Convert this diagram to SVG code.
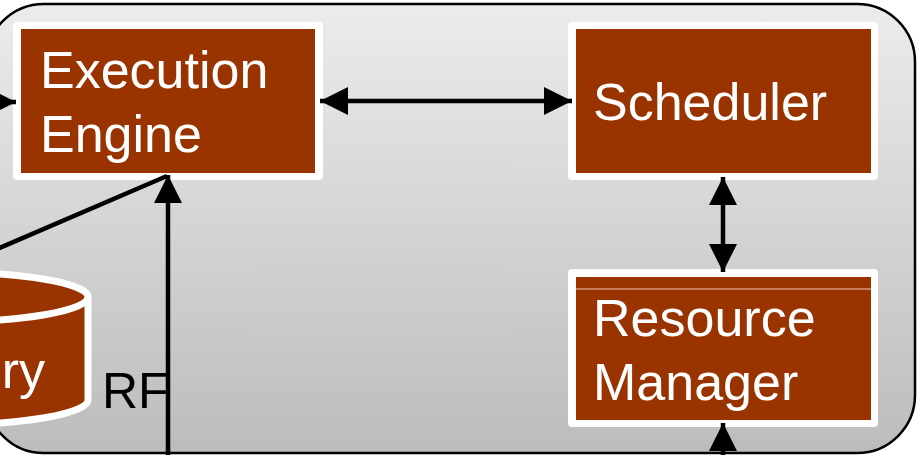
<svg xmlns="http://www.w3.org/2000/svg" width="917" height="455" viewBox="0 0 917 455">
<style>
.lbl{font-family:"Liberation Sans",Arial,sans-serif;font-size:52px;fill:#ffffff}
.dark{font-family:"Liberation Sans",Arial,sans-serif;font-size:50px;fill:#000000}
.outer{fill:#ffffff}
.inner{fill:#993300}
.conn{stroke:#000;stroke-width:4.5;fill:none}
</style>
<defs>
<linearGradient id="bg" x1="0" y1="0" x2="0" y2="1">
<stop offset="0" stop-color="#ececec"/>
<stop offset="1" stop-color="#bcbcbc"/>
</linearGradient>
<marker id="ah" markerUnits="userSpaceOnUse" markerWidth="28" markerHeight="28" viewBox="0 0 27 27" refX="27" refY="13.5" orient="auto-start-reverse">
<path d="M0,0 L27,13.5 L0,27 z" fill="#000"/>
</marker>
</defs>
<rect x="-14" y="4" width="929" height="449" rx="58" ry="58" fill="url(#bg)" stroke="#000" stroke-width="2.5"/>
<g id="repository">
<path d="M-208,297 L-208,400 A148,25 0 0 0 88,400 L88,297" fill="#993300" stroke="#fff" stroke-width="7"/>
<ellipse cx="-60" cy="297" rx="148" ry="25" fill="#993300" stroke="#fff" stroke-width="7"/>
<text class="lbl" x="45" y="388" text-anchor="end">ry</text>
</g>
<g id="execution-engine">
<rect class="outer" x="13" y="22" width="310" height="158" rx="4"/>
<rect class="inner" x="21" y="29" width="294" height="144"/>
<text class="lbl" x="40" y="88">Execution</text>
<text class="lbl" x="40" y="152">Engine</text>
</g>
<g id="scheduler">
<rect class="outer" x="568" y="22" width="310" height="158" rx="4"/>
<rect class="inner" x="576" y="29" width="295" height="144"/>
<text class="lbl" x="593" y="120">Scheduler</text>
</g>
<g id="resource-manager">
<rect class="outer" x="568" y="269" width="310" height="158" rx="4"/>
<rect class="inner" x="576" y="277" width="295" height="143"/>
<line x1="576" y1="289" x2="871" y2="289" stroke="#f2c9b0" stroke-width="1"/>
<text class="lbl" x="593" y="336">Resource</text>
<text class="lbl" x="593" y="400">Manager</text>
</g>
<g id="rf-label">
<text class="dark" x="102" y="408">RF</text>
</g>
<g id="connectors">
<line class="conn" x1="-20" y1="102" x2="16" y2="102" marker-end="url(#ah)"/>
<line class="conn" x1="320" y1="101" x2="572" y2="101" marker-start="url(#ah)" marker-end="url(#ah)"/>
<line class="conn" x1="723" y1="177" x2="723" y2="272" marker-start="url(#ah)" marker-end="url(#ah)"/>
<line class="conn" x1="723" y1="460" x2="723" y2="423" marker-end="url(#ah)"/>
<line class="conn" x1="168" y1="460" x2="168" y2="175" marker-end="url(#ah)"/>
<line class="conn" x1="-10" y1="252" x2="167" y2="176"/>
</g>
</svg>
